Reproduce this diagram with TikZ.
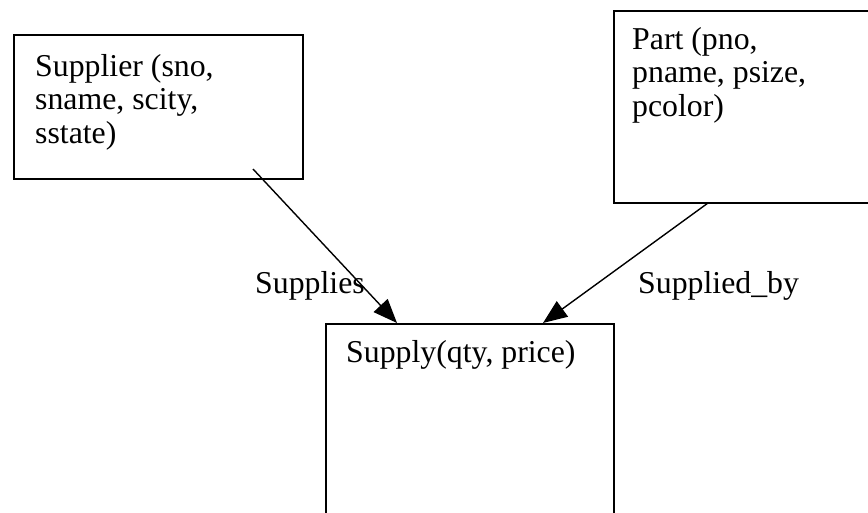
\documentclass[tikz,border=0pt]{standalone}
\usepackage{fontspec}
\setmainfont{Liberation Serif}
\usetikzlibrary{arrows.meta}
\tikzset{
  box/.style={draw, line width=1.6pt, rectangle, inner sep=0pt, anchor=north west},
  txt/.style={anchor=base west, inner sep=0pt, align=left, font=\fontsize{31.8}{33.5}\selectfont},
  conn/.style={line width=1.4pt, -{Triangle[length=24pt,width=19pt]}}
}
\begin{document}
\begin{tikzpicture}[x=1pt,y=-1pt]
\useasboundingbox (0,0) rectangle (868,512);
\clip (0,0) rectangle (868,512);
\fill[white] (0,0) rectangle (868,512);
% boxes
\node[box, minimum width=289pt, minimum height=144pt] (supplier) at (13,34) {};
\node[box, minimum width=300pt, minimum height=192pt] (part) at (613,10) {};
\node[box, minimum width=288pt, minimum height=230pt] (supply) at (325,323) {};
% texts (base anchor = last line's baseline)
\node[txt] (suppliertext) at (35,143) {Supplier (sno,\\sname, scity,\\sstate)};
\node[txt] (parttext) at (632,116) {Part (pno,\\pname, psize,\\pcolor)};
\node[txt] (supplytext) at (346,362) {Supply(qty, price)};
% connector ends
\coordinate (s1) at (253,169);
\coordinate (s2) at (397,323);
\coordinate (p1) at (708,203);
\coordinate (p2) at (543,323);
\draw[conn] (s1) -- (s2);
\draw[conn] (p1) -- (p2);
% labels
\node[txt] (lsupplies) at (255,293) {Supplies};
\node[txt] (lsuppliedby) at (638,293) {Supplied\_by};
\end{tikzpicture}
\end{document}
